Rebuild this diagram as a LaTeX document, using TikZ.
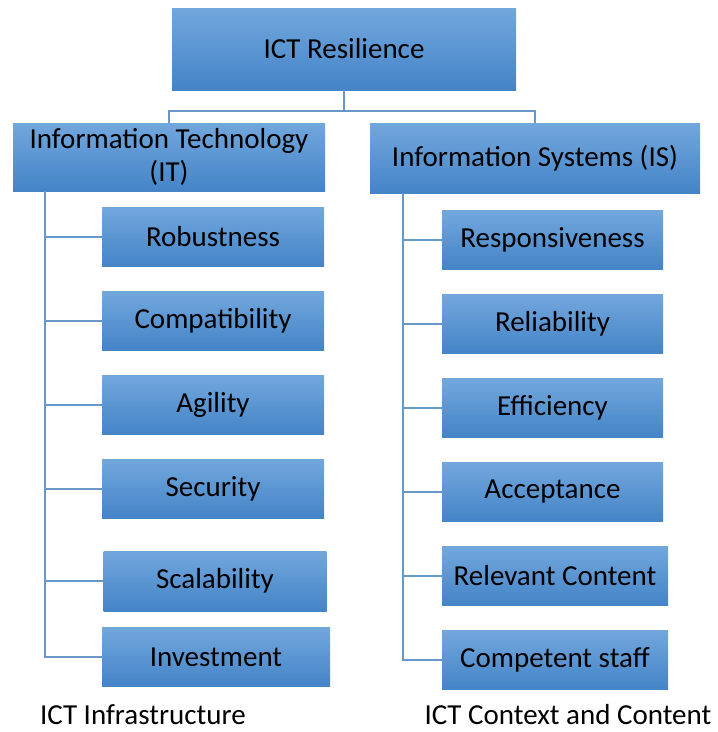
\documentclass[tikz,border=0pt]{standalone}
\usepackage{fontspec}
\setmainfont{Carlito}
\usetikzlibrary{positioning,calc}
\definecolor{boxtop}{RGB}{114,167,221}
\definecolor{boxbot}{RGB}{68,132,199}
\definecolor{wireblue}{RGB}{104,152,202}
\tikzset{
    head/.style={rectangle, top color=boxtop, bottom color=boxbot, minimum width=344pt, minimum height=82pt, inner sep=0pt, font=\fontsize{29}{33}\selectfont},
    branch/.style={rectangle, top color=boxtop, bottom color=boxbot, align=center, inner sep=0pt, font=\fontsize{29}{33}\selectfont},
    leaf/.style={rectangle, top color=boxtop, bottom color=boxbot, minimum width=222pt, minimum height=59pt, inner sep=0pt, font=\fontsize{29}{33}\selectfont},
    caption/.style={font=\fontsize{29}{33}\selectfont, inner sep=0pt},
    line/.style={draw=wireblue, line width=1.5pt}
}

\begin{document}
\begin{tikzpicture}[x=1pt, y=1pt, node distance=84pt]
    \useasboundingbox (0,0) rectangle (718,-732);
    \node [head] (ict) at (344,-49) {ICT Resilience};
    \node [branch, minimum width=312pt, minimum height=68pt] (it) at (169,-157) {Information Technology\\(IT)};
    \node [branch, minimum width=330pt, minimum height=70pt] (is) at (535,-158) {Information Systems (IS)};

    % infrastructure side
    \node [leaf] (robust) at (213,-237) {Robustness};
    \node [leaf, below of=robust] (compat) {Compatibility};
    \node [leaf, below of=compat] (agility) {Agility};
    \node [leaf, below of=agility] (security) {Security};
    \node [leaf, below of=security, node distance=92pt, xshift=2pt, minimum width=223pt, minimum height=60pt] (scal) {Scalability};
    \node [leaf, below of=scal, node distance=76pt, xshift=1pt, minimum width=228pt] (invest) {Investment};

    % context side
    \node [leaf, minimum width=221pt] (respons) at (552.5,-240) {Responsiveness};
    \node [leaf, below of=respons, minimum width=221pt] (reliab) {Reliability};
    \node [leaf, below of=reliab, minimum width=221pt] (effic) {Efficiency};
    \node [leaf, below of=effic, minimum width=221pt] (accept) {Acceptance};
    \node [leaf, below of=accept, xshift=2.5pt, minimum width=226pt] (relevant) {Relevant Content};
    \node [leaf, below of=relevant, minimum width=226pt] (staff) {Competent staff};

    \node [caption] (infra) at (143,-715) {ICT Infrastructure};
    \node [caption] (context) at (568,-715) {ICT Context and Content};

    \path [line] (ict.south) -- ++(0,-21) -| (it.north);
    \path [line] (ict.south) -- ++(0,-21) -| (is.north);

    \coordinate (itspine) at ($(it.south west)+(32,0)$);
    \coordinate (isspine) at ($(is.south west)+(33,0)$);
    \foreach \leaf in {robust,compat,agility,security,scal,invest}
        \path [line] (itspine) |- (\leaf.west);
    \foreach \leaf in {respons,reliab,effic,accept,relevant,staff}
        \path [line] (isspine) |- (\leaf.west);
\end{tikzpicture}
\end{document}
